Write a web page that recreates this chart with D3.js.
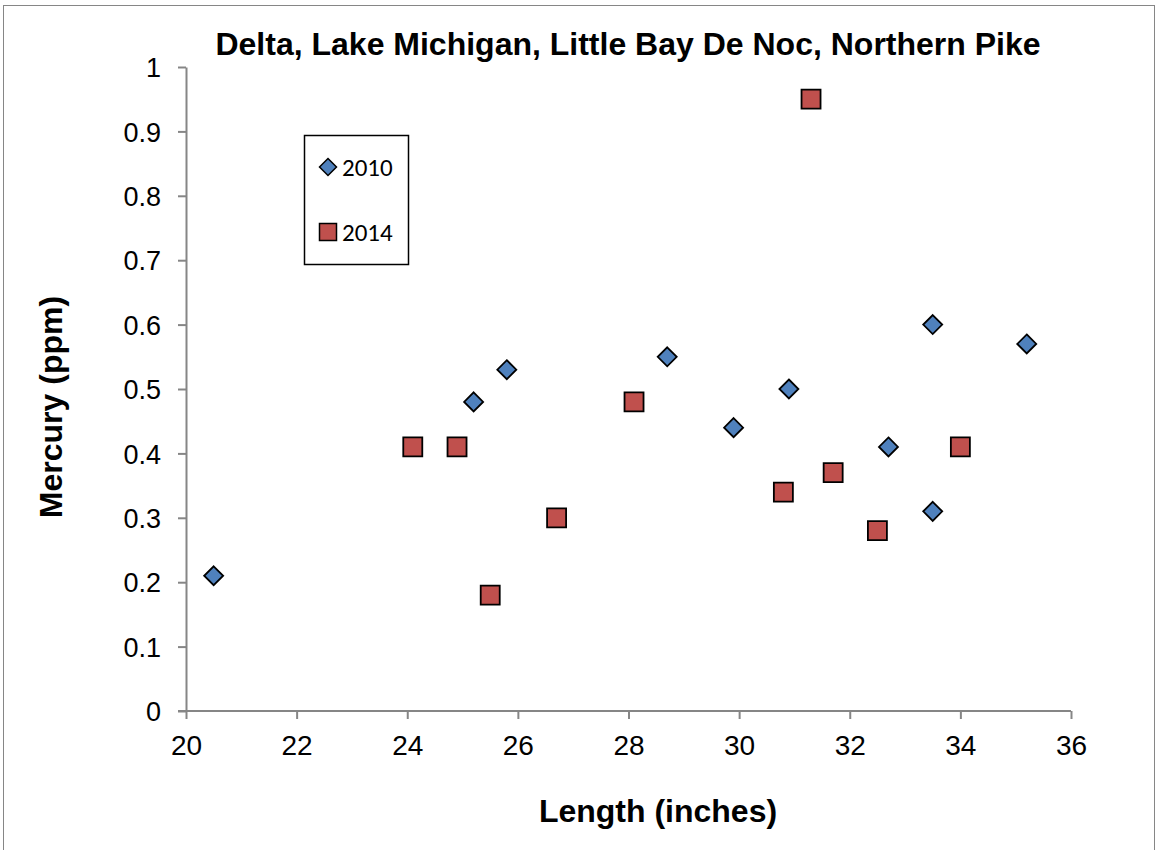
<!DOCTYPE html>
<html>
<head>
<meta charset="utf-8">
<script src="https://cdn.jsdelivr.net/npm/d3@7"></script>
<style>
  body { margin: 0; background: #fff; }
  svg { display: block; }
</style>
</head>
<body>
<div id="chart"></div>
<script>
// 2010 samples
let len2010 = [20.5, 25.2, 25.8, 28.7, 29.9, 30.9, 32.7, 33.5, 33.5, 35.2]
let hg2010 = [0.21, 0.48, 0.53, 0.55, 0.44, 0.50, 0.41, 0.60, 0.31, 0.57]

// 2014 samples
let len2014 = [24.1, 24.9, 25.5, 26.7, 28.1, 30.8, 31.3, 31.7, 32.5, 34.0]
let hg2014 = [0.41, 0.41, 0.18, 0.30, 0.48, 0.34, 0.95, 0.37, 0.28, 0.41]

let xTicks = [20, 22, 24, 26, 28, 30, 32, 34, 36]
let yTicks = [0, 0.1, 0.2, 0.3, 0.4, 0.5, 0.6, 0.7, 0.8, 0.9, 1]
let seriesNames = ["2010", "2014"]

let svgW = 1156
let svgH = 850

let margin = { left: 186, top: 67, right: 85, bottom: 139 }
let chartW = svgW - margin.left - margin.right
let chartH = svgH - margin.top - margin.bottom

let x = d3.scaleLinear().domain([20, 36]).range([0, chartW])
let y = d3.scaleLinear().domain([0, 1]).range([chartH, 0])

let font = "'Liberation Sans', Arial, sans-serif"

let svg = d3.select("#chart")
  .append("svg")
  .attr("width", svgW)
  .attr("height", svgH)

// outer chart border
svg.append("rect")
  .attr("x", 3.5)
  .attr("y", 5.5)
  .attr("width", 1151)
  .attr("height", 850)
  .attr("fill", "none")
  .attr("stroke", "#868686")

let group = svg.append("g")
  .attr("transform", `translate(${margin.left},${margin.top})`)

let axisColor = "#868686"

let xAxis = d3.axisBottom(x).tickValues(xTicks).tickSize(8).tickSizeOuter(0).tickPadding(16)
let yAxis = d3.axisLeft(y).tickValues(yTicks).tickSize(8).tickSizeOuter(0).tickPadding(17)
  .tickFormat(d => d3.format("")(+d.toFixed(1)))

let gx = group.append("g")
  .attr("transform", `translate(0, ${chartH})`)
  .call(xAxis)

let gy = group.append("g")
  .call(yAxis)

;[gx, gy].forEach(g => {
  g.select(".domain").attr("stroke", axisColor).attr("stroke-width", 2)
  g.selectAll(".tick line").attr("stroke", axisColor).attr("stroke-width", 2)
  g.selectAll("text")
    .attr("fill", "#000")
    .style("font-family", font)
})
gx.selectAll("text").style("font-size", "28px")
gy.selectAll("text").style("font-size", "27px").attr("dy", "0.36em")
// extend x axis line under the y tick at 0
gx.select(".domain").attr("d", `M-8,0H${chartW}`)

let diamond = d3.symbol().type(d3.symbolDiamond2).size(230)
let square = d3.symbol().type(d3.symbolSquare2).size(460)

let blue = "#4F81BD"
let red = "#C0504D"

let d2010 = len2010.map((v, i) => ({ len: v, hg: hg2010[i] }))
let d2014 = len2014.map((v, i) => ({ len: v, hg: hg2014[i] }))

group.selectAll(".s2014")
  .data(d2014)
  .enter()
  .append("path")
  .attr("class", "s2014")
  .attr("d", square)
  .attr("transform", d => `translate(${x(d.len)},${y(d.hg)})`)
  .attr("fill", red)
  .attr("stroke", "#000")
  .attr("stroke-width", 1.8)

group.selectAll(".s2010")
  .data(d2010)
  .enter()
  .append("path")
  .attr("class", "s2010")
  .attr("d", diamond)
  .attr("transform", d => `translate(${x(d.len)},${y(d.hg)})`)
  .attr("fill", blue)
  .attr("stroke", "#000")
  .attr("stroke-width", 1.8)

// title
svg.append("text")
  .attr("x", 628)
  .attr("y", 55)
  .attr("text-anchor", "middle")
  .style("font-family", font)
  .style("font-weight", "bold")
  .style("font-size", "32px")
  .text("Delta, Lake Michigan, Little Bay De Noc, Northern Pike")

// axis titles
svg.append("text")
  .attr("x", 658)
  .attr("y", 822)
  .attr("text-anchor", "middle")
  .style("font-family", font)
  .style("font-weight", "bold")
  .style("font-size", "32px")
  .text("Length (inches)")

svg.append("text")
  .attr("transform", "translate(62,407) rotate(-90)")
  .attr("text-anchor", "middle")
  .style("font-family", font)
  .style("font-weight", "bold")
  .style("font-size", "32px")
  .text("Mercury (ppm)")

// legend
let legend = svg.append("g")
legend.append("rect")
  .attr("x", 304.5)
  .attr("y", 135.5)
  .attr("width", 104)
  .attr("height", 129)
  .attr("fill", "#fff")
  .attr("stroke", "#000")
  .attr("stroke-width", 1.5)

let legendItems = legend.selectAll(".item")
  .data(seriesNames)
  .enter()
  .append("g")
  .attr("class", "item")
  .attr("transform", (d, i) => `translate(328, ${167 + i * 65})`)

legendItems.append("path")
  .attr("d", (d, i) => i === 0
    ? d3.symbol().type(d3.symbolDiamond2).size(184)()
    : d3.symbol().type(d3.symbolSquare2).size(368)())
  .attr("fill", (d, i) => i === 0 ? blue : red)
  .attr("stroke", "#000")
  .attr("stroke-width", 1.5)

legendItems.append("text")
  .attr("x", 14)
  .attr("dy", "0.36em")
  .style("font-family", "Carlito, Lato, sans-serif")
  .style("font-size", "25px")
  .text(d => d)
</script>
</body>
</html>
